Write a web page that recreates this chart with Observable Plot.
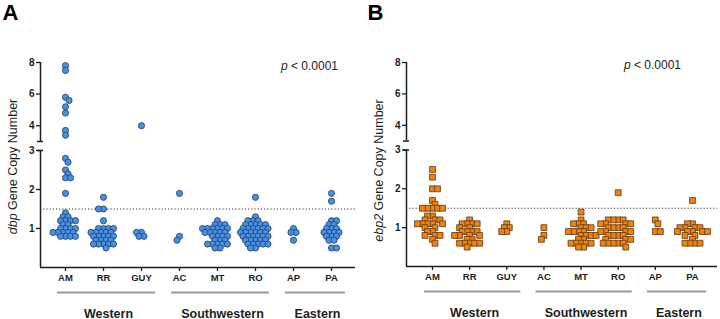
<!DOCTYPE html>
<html>
<head>
<meta charset="utf-8">
<script src="https://cdn.jsdelivr.net/npm/d3@7"></script>
<script src="https://cdn.jsdelivr.net/npm/@observablehq/plot@0.6"></script>
<style>
  html, body { margin: 0; padding: 0; background: #fff; }
  #chart { display: flex; width: 720px; height: 319px; }
</style>
</head>
<body>
<div id="chart"></div>
<script>
// Sampling sites and their regions
const sites = ["AM", "RR", "GUY", "AC", "MT", "RO", "AP", "PA"];
const regions = [
  {name: "Western", from: 0, to: 2},
  {name: "Southwestern", from: 3, to: 5},
  {name: "Eastern", from: 6, to: 7}
];

// dbp gene copy number per isolate, by site
const dbpAM = [7.8, 7.5, 5.8, 5.6, 5.2, 4.8, 3.7, 3.4, 2.8, 2.7, 2.5, 2.4, 2.3, 2.3, 1.9, 1.4, 1.3, 1.3, 1.2, 1.2, 1.2, 1.2, 1.1, 1.1, 1.0, 1.0, 1.0, 1.0, 0.9, 0.9, 0.9, 0.9, 0.9, 0.8, 0.8, 0.8, 0.8];
const dbpRR = [1.8, 1.5, 1.5, 1.2, 1.0, 1.0, 1.0, 1.0, 0.9, 0.9, 0.9, 0.9, 0.9, 0.8, 0.8, 0.8, 0.8, 0.8, 0.7, 0.7, 0.7, 0.7, 0.6, 0.6, 0.6, 0.6, 0.6, 0.5];
const dbpGUY = [4.0, 0.9, 0.8, 0.8, 0.9];
const dbpAC = [1.9, 0.7, 0.8];
const dbpMT = [1.2, 1.1, 1.1, 1.1, 1.0, 1.0, 1.0, 1.0, 1.0, 1.0, 0.9, 0.9, 0.9, 0.9, 0.9, 0.8, 0.8, 0.8, 0.8, 0.7, 0.7, 0.7, 0.6, 0.6, 0.6, 0.6, 0.6, 0.5, 0.5];
const dbpRO = [1.8, 1.3, 1.2, 1.2, 1.2, 1.1, 1.1, 1.1, 1.1, 1.1, 1.0, 1.0, 1.0, 1.0, 1.0, 1.0, 0.9, 0.9, 0.9, 0.9, 0.9, 0.9, 0.8, 0.8, 0.8, 0.8, 0.8, 0.8, 0.7, 0.7, 0.7, 0.7, 0.7, 0.6, 0.6, 0.6, 0.6, 0.6, 0.5, 0.5];
const dbpAP = [1.0, 0.9, 0.9, 0.7];
const dbpPA = [1.9, 1.7, 1.2, 1.2, 1.1, 1.1, 1.0, 1.0, 1.0, 0.9, 0.9, 0.9, 0.9, 0.8, 0.8, 0.8, 0.7, 0.7, 0.5, 0.5];

// ebp2 gene copy number per isolate, by site
const ebpAM = [2.5, 2.3, 2.0, 2.0, 1.7, 1.6, 1.5, 1.5, 1.5, 1.5, 1.5, 1.3, 1.3, 1.2, 1.2, 1.2, 1.1, 1.1, 1.1, 1.1, 1.1, 1.0, 1.0, 0.9, 0.9, 0.8, 0.8, 0.8, 0.7, 0.6];
const ebpRR = [1.2, 1.1, 1.1, 1.1, 1.1, 1.0, 1.0, 0.9, 0.9, 0.9, 0.9, 0.8, 0.8, 0.8, 0.8, 0.7, 0.7, 0.6, 0.6, 0.6, 0.6, 0.6, 0.5];
const ebpGUY = [1.1, 1.0, 1.0, 0.9, 0.9];
const ebpAC = [1.0, 0.8, 0.7];
const ebpMT = [1.4, 1.2, 1.1, 1.1, 1.1, 1.0, 1.0, 1.0, 0.9, 0.9, 0.9, 0.9, 0.8, 0.8, 0.8, 0.8, 0.7, 0.7, 0.6, 0.6, 0.6, 0.6, 0.6, 0.5, 0.5];
const ebpRO = [1.9, 1.2, 1.2, 1.2, 1.2, 1.1, 1.1, 1.1, 1.1, 1.0, 1.0, 1.0, 1.0, 0.9, 0.9, 0.9, 0.9, 0.8, 0.8, 0.8, 0.8, 0.7, 0.7, 0.7, 0.6, 0.6, 0.6, 0.6, 0.6, 0.5];
const ebpAP = [1.2, 1.1, 0.9, 0.9];
const ebpPA = [1.7, 1.1, 1.1, 1.0, 1.0, 1.0, 1.0, 0.9, 0.9, 0.9, 0.9, 0.9, 0.8, 0.8, 0.7, 0.6, 0.6, 0.6, 0.6];

// Broken y axis: 0–3 below the break, 3–8 compressed above it
const yTicks = [1, 2, 3, 4, 6, 8];
const yDomain = [0, 3, 3.001, 8];

// Scatter layout: each point takes the free spot nearest the site's centre line;
// points clash when inside an ellipse sx wide and sy tall, which staggers neighbouring rows
function swarm(values, yPx, sx, sy) {
  const pts = values.map(v => ({v, py: yPx(v), ox: 0})).sort((a, b) => a.py - b.py);
  const placed = [];
  const clash = (c, p) => placed.some(q => ((q.ox - c) / sx) ** 2 + ((q.py - p.py) / sy) ** 2 < 1 - 1e-6);
  for (const p of pts) {
    const cands = [0];
    for (const q of placed) {
      const dy = Math.abs(q.py - p.py);
      if (dy < sy) {
        const dx = sx * Math.sqrt(1 - (dy / sy) ** 2);
        cands.push(q.ox + dx, q.ox - dx);
      }
    }
    cands.sort((a, b) => Math.abs(a) - Math.abs(b) || (placed.length % 2 ? b - a : a - b));
    p.ox = cands.find(c => !clash(c, p)) ?? 0;
    placed.push(p);
  }
  return pts;
}

function italicize(svg, plain, html) {
  d3.select(svg).selectAll("text").each(function() {
    if (this.textContent === plain) this.innerHTML = html;
  });
}

function panel(cfg) {
  const g = cfg.geom;
  const yPx = d3.scaleLinear(yDomain, g.yRange);
  const pts = [];
  cfg.groups.forEach((vals, i) => {
    for (const p of swarm(vals, yPx, cfg.sx, cfg.sy)) pts.push({site: sites[i], v: p.v, x: i + p.ox / g.step});
  });
  const u = px => px / g.step;                       // pixels -> x units
  const ax0 = (g.axisLeft - g.first) / g.step;       // y-axis position
  const ax1 = (g.axisRight - g.first) / g.step;      // end of x axis
  const bottom = g.yRange[0];
  const ink = "#1e1e1e";

  const svg = Plot.plot({
    width: 360,
    height: 319,
    marginLeft: g.axisLeft,
    marginRight: 0,
    marginTop: 0,
    marginBottom: 319 - bottom,
    style: {fontFamily: "'Liberation Sans', Arial, sans-serif", background: "#fff", overflow: "visible"},
    x: {type: "linear", domain: [0, 7], range: [g.first, g.first + 7 * g.step], axis: null},
    y: {type: "linear", domain: yDomain, range: g.yRange, axis: null},
    marks: [
      // threshold
      Plot.ruleY([1.5], {x1: ax0, x2: ax1, stroke: "#333", strokeWidth: 1, strokeDasharray: "1.2,2"}),
      // isolates
      Plot.dot(pts, {x: "x", y: "v", r: cfg.r, symbol: cfg.symbol, fill: cfg.fill, stroke: cfg.stroke, strokeWidth: 0.8}),
      // axes
      Plot.ruleX([ax0], {y1: 0, y2: 3, stroke: ink, strokeWidth: 1.5}),
      Plot.ruleX([ax0], {y1: 3.001, y2: 8, stroke: ink, strokeWidth: 1.5}),
      Plot.ruleY([3, 3.001], {x1: ax0 - u(3), x2: ax0 + u(3), stroke: ink, strokeWidth: 1.5}),
      Plot.ruleY([0], {x1: ax0, x2: ax1, stroke: ink, strokeWidth: 1.5}),
      Plot.axisY(yTicks, {anchor: "left", label: null, tickSize: 4, tickPadding: 2, fontSize: 10, fontWeight: "bold", color: ink, strokeWidth: 1.3}),
      Plot.axisX(d3.range(sites.length), {anchor: "bottom", label: null, tickFormat: i => sites[i], tickSize: 4, tickPadding: 3, fontSize: 9.5, fontWeight: "bold", color: ink, strokeWidth: 1.3}),
      // regions
      Plot.ruleY(regions, {y: 0, dy: 25, x1: d => d.from - u(8), x2: d => d.to + u(14), stroke: "#9a9a9a", strokeWidth: 2}),
      Plot.text(regions, {y: 0, dy: 46, x: d => (d.from + d.to) / 2 + u(5), text: "name", fontSize: 12.5, fontWeight: "bold", fill: ink}),
      // annotations
      Plot.text(["p < 0.0001"], {x: (g.pX - g.first) / g.step, y: 7.8, fontSize: 12, fill: ink}),
      Plot.text([cfg.letter], {frameAnchor: "top-left", dx: g.letterX - g.axisLeft, dy: 4, lineAnchor: "top", textAnchor: "start", fontSize: 22, fontWeight: "bold", fill: "#000"}),
      Plot.text([cfg.title], {x: u(g.titleX - g.first), y: yPx.invert(g.titleY), rotate: -90, fontSize: 12.5, fill: ink})
    ]
  });
  italicize(svg, cfg.title, cfg.titleHtml);
  italicize(svg, "p < 0.0001", "<tspan font-style='italic'>p</tspan> &lt; 0.0001");
  return svg;
}

const chart = document.getElementById("chart");

chart.append(panel({
  letter: "A",
  title: "dbp Gene Copy Number",
  titleHtml: "<tspan font-style='italic'>dbp</tspan> Gene Copy Number",
  groups: [dbpAM, dbpRR, dbpGUY, dbpAC, dbpMT, dbpRO, dbpAP, dbpPA],
  symbol: "circle", r: 3.1, sx: 5.0, sy: 4.5,
  fill: "#4a90e2", stroke: "#1f3f66",
  geom: {axisLeft: 40, axisRight: 355, first: 65, step: 38, yRange: [267, 150, 141, 62], pX: 309, letterX: 2, titleX: 12, titleY: 166}
}));

chart.append(panel({
  letter: "B",
  title: "ebp2 Gene Copy Number",
  titleHtml: "<tspan font-style='italic'>ebp2</tspan> Gene Copy Number",
  groups: [ebpAM, ebpRR, ebpGUY, ebpAC, ebpMT, ebpRO, ebpAP, ebpPA],
  symbol: "square", r: 3.3, sx: 5.0, sy: 4.5,
  fill: "#f0820f", stroke: "#5e3a14",
  geom: {axisLeft: 46, axisRight: 357, first: 72, step: 37.14, yRange: [266, 149.5, 140.5, 62], pX: 292, letterX: 7, titleX: 18, titleY: 170}
}));
</script>
</body>
</html>
